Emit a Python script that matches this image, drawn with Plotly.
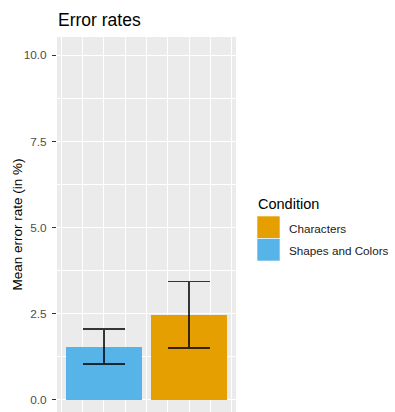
import plotly.graph_objects as go

# Data
conditions = ["Shapes and Colors", "Characters"]
legend_order = ["Characters", "Shapes and Colors"]
mean_error = [1.55, 2.47]
error_half = [0.51, 0.96]
colors = {"Characters": "#E69F00", "Shapes and Colors": "#56B4E9"}
y_ticks = [0.0, 2.5, 5.0, 7.5, 10.0]
y_tick_labels = ["0.0", "2.5", "5.0", "7.5", "10.0"]

W, H = 395, 412
L, R, T, B = 57, 159, 37, 0
pw, ph = W - L - R, H - T - B


def px_x(p):
    return (p - L) / pw


def px_y(p):
    return (H - B - p) / ph


fig = go.Figure()
for i, (cond, m, e) in enumerate(zip(conditions, mean_error, error_half)):
    fig.add_trace(go.Bar(
        x=[i + 1], y=[m], width=0.9, marker=dict(color=colors[cond], line=dict(width=0)),
        error_y=dict(type="data", array=[e], visible=True, color="rgba(0,0,0,0.78)",
                     thickness=1.3, width=21),
        name=cond, showlegend=False,
    ))

shapes = []
annotations = []

# Legend drawn in pixel positions
annotations.append(dict(text="Condition", xref="paper", yref="paper", x=px_x(256), y=px_y(204),
                        xanchor="left", yanchor="middle", showarrow=False,
                        font=dict(size=14.5, color="#000000", family="Liberation Sans, Arial")))
for j, cond in enumerate(legend_order):
    top = 216 + j * 22.5
    shapes.append(dict(type="rect", xref="paper", yref="paper",
                       x0=px_x(257), x1=px_x(280), y0=px_y(top), y1=px_y(top + 22.5),
                       fillcolor=colors[cond], line=dict(color="white", width=0.6)))
    annotations.append(dict(text=cond, xref="paper", yref="paper", x=px_x(287), y=px_y(top + 12),
                            xanchor="left", yanchor="middle", showarrow=False,
                            font=dict(size=11.7, color="#1A1A1A", family="Liberation Sans, Arial")))

# Y axis title
annotations.append(dict(text="Mean error rate (in %)", xref="paper", yref="paper",
                        x=px_x(17), y=0.5, xanchor="center", yanchor="middle", textangle=-90,
                        showarrow=False,
                        font=dict(size=13.5, color="#000000", family="Liberation Sans, Arial")))

fig.update_layout(
    width=W, height=H,
    margin=dict(l=L, r=R, t=T, b=B, pad=0),
    paper_bgcolor="white", plot_bgcolor="#EBEBEB",
    title=dict(text="Error rates", x=58 / W, xref="container", xanchor="left",
               y=1 - 20 / H, yref="container", yanchor="middle",
               font=dict(size=17.5, color="#000000", family="Liberation Sans, Arial")),
    shapes=shapes, annotations=annotations,
    bargap=0, showlegend=False,
)
fig.update_xaxes(
    range=[0.45, 2.55], tick0=0.5, dtick=0.5, showticklabels=False, ticks="",
    showgrid=True, gridcolor="white", gridwidth=1.4, zeroline=False, showline=False,
    minor=dict(tick0=0.25, dtick=0.5, showgrid=True, gridcolor="white", gridwidth=1.1),
)
fig.update_yaxes(
    range=[-0.35, 10.53], tickvals=y_ticks, ticktext=y_tick_labels,
    ticks="outside", ticklen=4, tickcolor="#333333", tickwidth=1.1,
    ticklabelstandoff=3,
    tickfont=dict(size=11.8, color="#4D4D4D", family="Liberation Sans, Arial"),
    showgrid=True, gridcolor="white", gridwidth=1.4, zeroline=False, showline=False,
    minor=dict(tick0=1.25, dtick=2.5, showgrid=True, gridcolor="white", gridwidth=0.8),
)

fig.write_html("out.html")
